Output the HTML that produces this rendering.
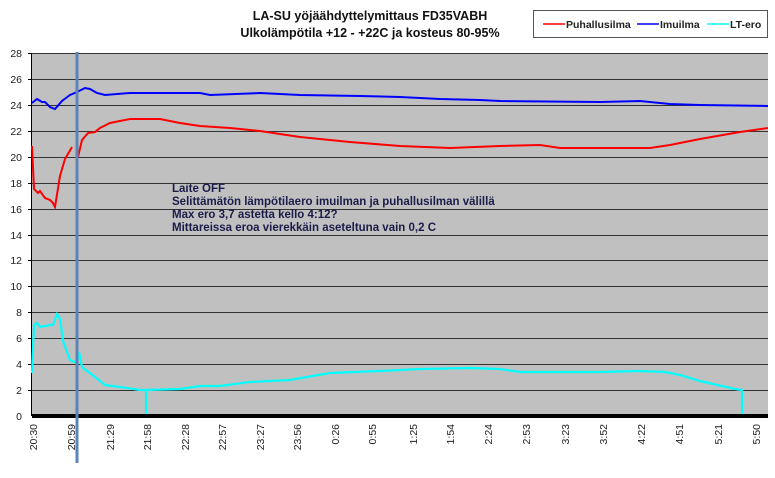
<!DOCTYPE html>
<html><head><meta charset="utf-8"><style>
body{margin:0;background:#fff;}
svg text{font-family:"Liberation Sans",Arial,sans-serif;}
</style></head><body>
<svg width="775" height="473" viewBox="0 0 775 473" xmlns="http://www.w3.org/2000/svg">
<rect x="0" y="0" width="775" height="473" fill="#fff"/>
<text x="370" y="20" font-size="12.5" font-weight="bold" text-anchor="middle" fill="#111">LA-SU yöjäähdyttelymittaus FD35VABH</text>
<text x="370" y="37" font-size="12.5" font-weight="bold" text-anchor="middle" fill="#111">Ulkolämpötila +12 - +22C ja kosteus 80-95%</text>
<rect x="533.5" y="10.5" width="234" height="27" fill="#fff" stroke="#555"/>
<line x1="543" y1="24" x2="565" y2="24" stroke="#f00" stroke-width="1.5"/>
<text x="566" y="28" font-size="10.5" font-weight="bold" fill="#222">Puhallusilma</text>
<line x1="637" y1="24" x2="659" y2="24" stroke="#00f" stroke-width="1.5"/>
<text x="660" y="28" font-size="10.5" font-weight="bold" fill="#222">Imuilma</text>
<line x1="707" y1="24" x2="729" y2="24" stroke="#0ff" stroke-width="1.5"/>
<text x="730" y="28" font-size="10.5" font-weight="bold" fill="#222">LT-ero</text>
<rect x="32" y="53" width="736" height="363" fill="#c0c0c0"/>
<g stroke="#333" stroke-width="1">
<line x1="32" y1="53.5" x2="768" y2="53.5"/><line x1="32" y1="79.5" x2="768" y2="79.5"/>
<line x1="32" y1="105.5" x2="768" y2="105.5"/><line x1="32" y1="131.5" x2="768" y2="131.5"/>
<line x1="32" y1="157.5" x2="768" y2="157.5"/><line x1="32" y1="183.5" x2="768" y2="183.5"/>
<line x1="32" y1="209.5" x2="768" y2="209.5"/><line x1="32" y1="235.5" x2="768" y2="235.5"/>
<line x1="32" y1="260.5" x2="768" y2="260.5"/><line x1="32" y1="286.5" x2="768" y2="286.5"/>
<line x1="32" y1="312.5" x2="768" y2="312.5"/><line x1="32" y1="338.5" x2="768" y2="338.5"/>
<line x1="32" y1="364.5" x2="768" y2="364.5"/><line x1="32" y1="390.5" x2="768" y2="390.5"/>
</g>
<line x1="31.5" y1="53" x2="31.5" y2="416" stroke="#000"/>
<g stroke="#000">
<line x1="28" y1="53.5" x2="32" y2="53.5"/><line x1="28" y1="79.5" x2="32" y2="79.5"/><line x1="28" y1="105.5" x2="32" y2="105.5"/><line x1="28" y1="131.5" x2="32" y2="131.5"/><line x1="28" y1="157.5" x2="32" y2="157.5"/><line x1="28" y1="183.5" x2="32" y2="183.5"/><line x1="28" y1="209.5" x2="32" y2="209.5"/><line x1="28" y1="235.5" x2="32" y2="235.5"/><line x1="28" y1="260.5" x2="32" y2="260.5"/><line x1="28" y1="286.5" x2="32" y2="286.5"/><line x1="28" y1="312.5" x2="32" y2="312.5"/><line x1="28" y1="338.5" x2="32" y2="338.5"/><line x1="28" y1="364.5" x2="32" y2="364.5"/><line x1="28" y1="390.5" x2="32" y2="390.5"/>
</g>
<g font-size="10.5" fill="#222" text-anchor="end">
<text x="22" y="57">28</text><text x="22" y="83">26</text><text x="22" y="109">24</text><text x="22" y="135">22</text><text x="22" y="161">20</text><text x="22" y="187">18</text><text x="22" y="213">16</text><text x="22" y="239">14</text><text x="22" y="264">12</text><text x="22" y="290">10</text><text x="22" y="316">8</text><text x="22" y="342">6</text><text x="22" y="368">4</text><text x="22" y="394">2</text><text x="22" y="420">0</text>
</g>
<polyline fill="none" stroke="#f00" stroke-width="2" points="32,146 34,189 38,193 40,191 45,198 50,200 53,203 55,207 60,176 65,159 72,147"/>
<polyline fill="none" stroke="#f00" stroke-width="2" points="78,157 82,140 88,133 95,132 100,128 110,123 130,119 160,119 180,123 200,126 230,128 260,131 300,137 350,142 400,146 450,148 500,146 540,145 560,148 600,148 650,148 670,145 700,139 740,132 768,128"/>
<polyline fill="none" stroke="#00f" stroke-width="2" points="32,103 37,99 42,102 45,102 50,107 55,109 62,101 70,95 77,92 85,88 90,89 97,93 105,95 130,93 200,93 210,95 260,93 300,95 360,96 400,97 440,99 480,100 500,101 600,102 640,101 670,104 700,105 768,106"/>
<polyline fill="none" stroke="#0ff" stroke-width="2.2" points="32,373 34,325 37,323 40,327 50,325 53,325 57,314 60,319 63,341 70,360 77,363 79,352 82,367 95,377 105,385 120,387 140,390 146,390 146,416 146,390 180,389 200,386 220,386 250,382 290,380 330,373 380,371 420,369 470,368 500,369 520,372 560,372 600,372 640,371 665,372 680,375 700,381 735,389 742,390 742,416 768,416"/>
<rect x="32" y="414" width="736" height="4" fill="#000"/>
<line x1="77" y1="52" x2="77" y2="463" stroke="#5b84b8" stroke-width="3"/>
<g font-size="11.5" font-weight="bold" fill="#1c1c4a">
<text x="172" y="192">Laite OFF</text>
<text x="172" y="205">Selittämätön lämpötilaero imuilman ja puhallusilman välillä</text>
<text x="172" y="218">Max ero 3,7 astetta kello 4:12?</text>
<text x="172" y="231">Mittareissa eroa vierekkäin aseteltuna vain 0,2 C</text>
</g>
<g font-size="10.5" fill="#222" text-anchor="end">
<text transform="translate(37,424) rotate(-90)">20:30</text>
<text transform="translate(75,424) rotate(-90)">20:59</text>
<text transform="translate(114,424) rotate(-90)">21:29</text>
<text transform="translate(151,424) rotate(-90)">21:58</text>
<text transform="translate(189,424) rotate(-90)">22:28</text>
<text transform="translate(226,424) rotate(-90)">22:57</text>
<text transform="translate(264,424) rotate(-90)">23:27</text>
<text transform="translate(301,424) rotate(-90)">23:56</text>
<text transform="translate(339,424) rotate(-90)">0:26</text>
<text transform="translate(376,424) rotate(-90)">0:55</text>
<text transform="translate(417,424) rotate(-90)">1:25</text>
<text transform="translate(454,424) rotate(-90)">1:54</text>
<text transform="translate(492,424) rotate(-90)">2:24</text>
<text transform="translate(530,424) rotate(-90)">2:53</text>
<text transform="translate(569,424) rotate(-90)">3:23</text>
<text transform="translate(607,424) rotate(-90)">3:52</text>
<text transform="translate(645,424) rotate(-90)">4:22</text>
<text transform="translate(683,424) rotate(-90)">4:51</text>
<text transform="translate(722,424) rotate(-90)">5:21</text>
<text transform="translate(760,424) rotate(-90)">5:50</text>
</g>
</svg>
</body></html>
